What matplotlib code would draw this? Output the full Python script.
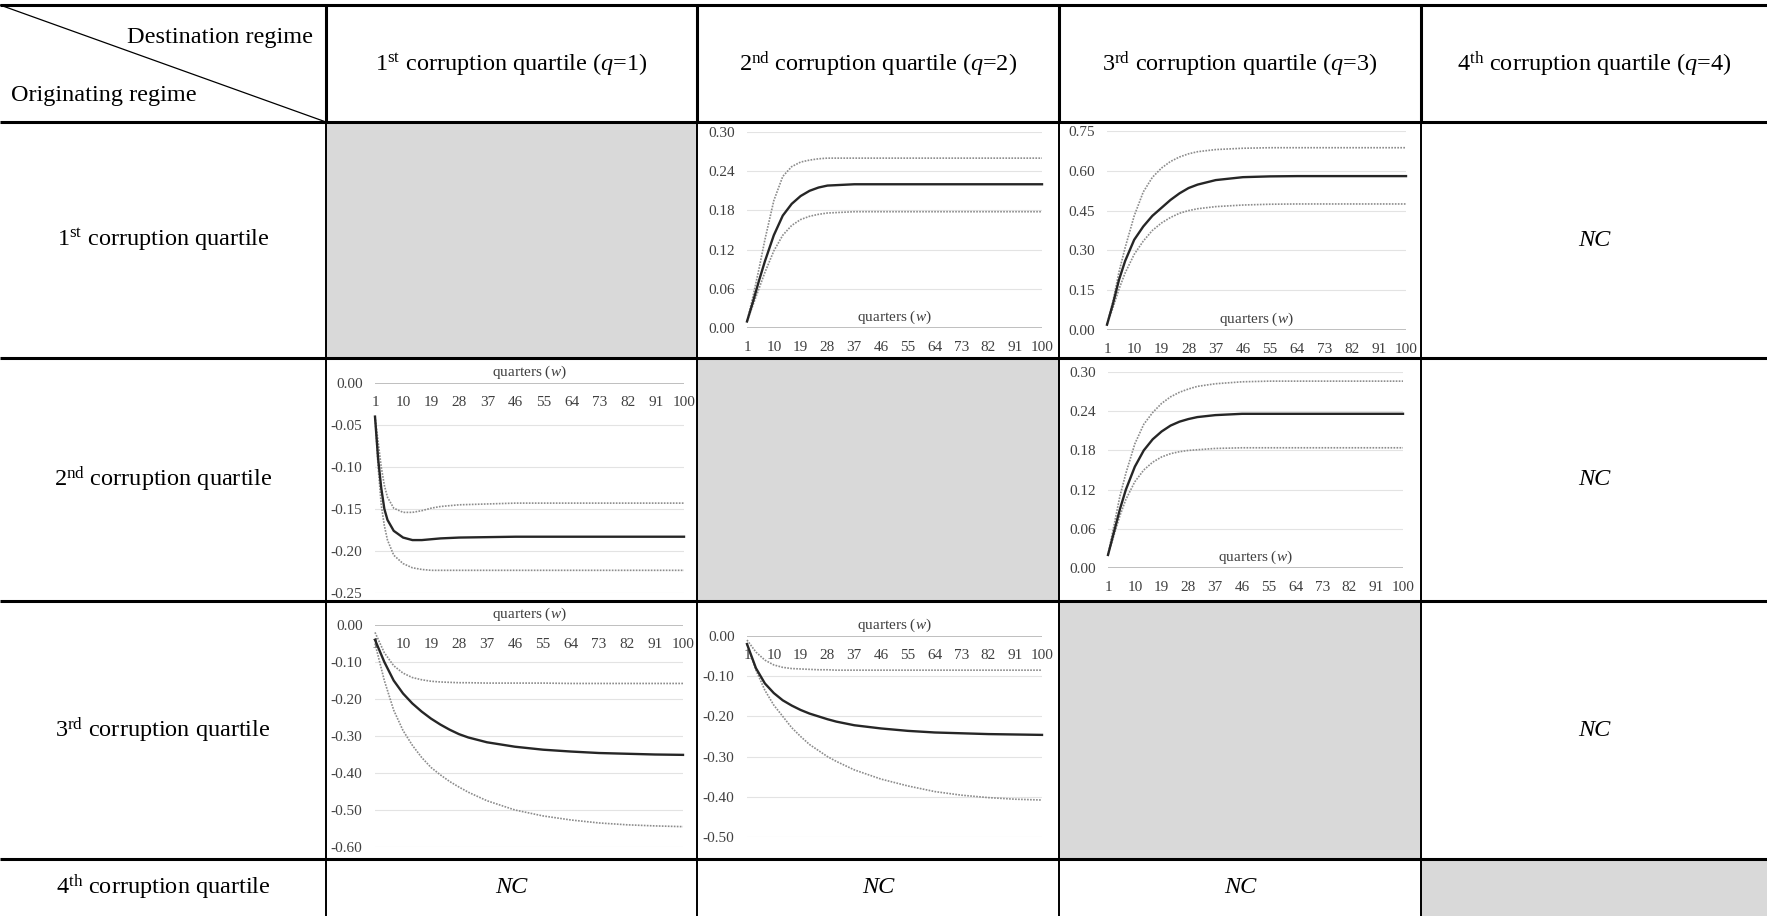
import matplotlib.pyplot as plt
from matplotlib.patches import Rectangle

plt.rcParams['font.family'] = 'Liberation Serif'
plt.rcParams['mathtext.fontset'] = 'custom'
plt.rcParams['mathtext.rm'] = 'Liberation Serif'
plt.rcParams['mathtext.it'] = 'Liberation Serif:italic'

# table text
col_heads = [r'1$^{\rm st}$ corruption quartile ($q$=1)',
             r'2$^{\rm nd}$ corruption quartile ($q$=2)',
             r'3$^{\rm rd}$ corruption quartile ($q$=3)',
             r'4$^{\rm th}$ corruption quartile ($q$=4)']
row_heads = [r'1$^{\rm st}$ corruption quartile',
             r'2$^{\rm nd}$ corruption quartile',
             r'3$^{\rm rd}$ corruption quartile',
             r'4$^{\rm th}$ corruption quartile']
nc_cells = [(0, 3), (1, 3), (2, 3), (3, 0), (3, 1), (3, 2)]
diag_cells = [(0, 0), (1, 1), (2, 2), (3, 3)]

# x ticks shared by every chart
w_ticks = [1, 10, 19, 28, 37, 46, 55, 64, 73, 82, 91, 100]

# row 1 -> q=2
w_a = [1, 3, 5, 7, 10, 13, 16, 19, 22, 25, 28, 37, 46, 55, 64, 73, 82, 91, 100]
a_mid = [0.01, 0.04, 0.072, 0.102, 0.142, 0.172, 0.19, 0.202, 0.21, 0.215, 0.218, 0.22, 0.22, 0.22, 0.22, 0.22, 0.22, 0.22, 0.22]
a_hi = [0.01, 0.048, 0.09, 0.135, 0.195, 0.232, 0.247, 0.254, 0.257, 0.259, 0.26, 0.26, 0.26, 0.26, 0.26, 0.26, 0.26, 0.26, 0.26]
a_lo = [0.01, 0.035, 0.06, 0.085, 0.118, 0.142, 0.157, 0.166, 0.171, 0.174, 0.176, 0.178, 0.178, 0.178, 0.178, 0.178, 0.178, 0.178, 0.178]

# row 1 -> q=3
w_b = [1, 3, 5, 7, 10, 13, 16, 19, 22, 25, 28, 31, 37, 46, 55, 64, 73, 82, 91, 100]
b_mid = [0.02, 0.10, 0.19, 0.26, 0.34, 0.39, 0.43, 0.46, 0.49, 0.515, 0.535, 0.548, 0.565, 0.576, 0.579, 0.58, 0.58, 0.58, 0.58, 0.58]
b_hi = [0.02, 0.11, 0.22, 0.31, 0.43, 0.52, 0.575, 0.61, 0.635, 0.652, 0.664, 0.672, 0.68, 0.685, 0.687, 0.687, 0.687, 0.687, 0.687, 0.687]
b_lo = [0.02, 0.085, 0.155, 0.215, 0.285, 0.335, 0.375, 0.403, 0.424, 0.44, 0.45, 0.457, 0.465, 0.471, 0.474, 0.475, 0.475, 0.475, 0.475, 0.475]

# row 2 -> q=1
w_c = [1, 2, 3, 4, 5, 7, 10, 13, 16, 19, 22, 28, 37, 46, 55, 64, 73, 82, 91, 100]
c_mid = [-0.04, -0.09, -0.125, -0.15, -0.163, -0.176, -0.184, -0.187, -0.187, -0.186, -0.185, -0.184, -0.1835, -0.183, -0.183, -0.183, -0.183, -0.183, -0.183, -0.183]
c_hi = [-0.04, -0.07, -0.10, -0.122, -0.136, -0.149, -0.154, -0.154, -0.152, -0.149, -0.147, -0.145, -0.144, -0.143, -0.143, -0.143, -0.143, -0.143, -0.143, -0.143]
c_lo = [-0.04, -0.10, -0.145, -0.17, -0.187, -0.205, -0.215, -0.22, -0.222, -0.223, -0.223, -0.223, -0.223, -0.223, -0.223, -0.223, -0.223, -0.223, -0.223, -0.223]

# row 2 -> q=3
w_d = w_b
d_mid = [0.02, 0.055, 0.09, 0.12, 0.155, 0.18, 0.197, 0.209, 0.218, 0.224, 0.228, 0.231, 0.234, 0.236, 0.236, 0.236, 0.236, 0.236, 0.236, 0.236]
d_hi = [0.02, 0.065, 0.11, 0.145, 0.19, 0.22, 0.238, 0.252, 0.262, 0.269, 0.274, 0.278, 0.282, 0.285, 0.286, 0.286, 0.286, 0.286, 0.286, 0.286]
d_lo = [0.02, 0.05, 0.08, 0.105, 0.132, 0.15, 0.162, 0.17, 0.175, 0.178, 0.18, 0.181, 0.183, 0.184, 0.184, 0.184, 0.184, 0.184, 0.184, 0.184]

# row 3 -> q=1
w_e = [1, 4, 7, 10, 13, 16, 19, 22, 25, 28, 31, 37, 46, 55, 64, 73, 82, 91, 100]
e_mid = [-0.04, -0.10, -0.15, -0.185, -0.212, -0.234, -0.253, -0.269, -0.283, -0.295, -0.304, -0.317, -0.329, -0.337, -0.342, -0.346, -0.348, -0.350, -0.351]
e_hi = [-0.02, -0.075, -0.11, -0.13, -0.142, -0.148, -0.152, -0.154, -0.155, -0.156, -0.156, -0.157, -0.157, -0.157, -0.158, -0.158, -0.158, -0.158, -0.158]
e_lo = [-0.05, -0.15, -0.23, -0.285, -0.325, -0.358, -0.385, -0.405, -0.423, -0.438, -0.452, -0.475, -0.50, -0.516, -0.527, -0.535, -0.540, -0.543, -0.545]

# row 3 -> q=2
w_f = w_e
f_mid = [-0.02, -0.08, -0.118, -0.142, -0.16, -0.173, -0.184, -0.193, -0.20, -0.207, -0.213, -0.222, -0.23, -0.236, -0.24, -0.242, -0.244, -0.245, -0.246]
f_hi = [-0.01, -0.04, -0.06, -0.072, -0.078, -0.081, -0.082, -0.083, -0.084, -0.084, -0.085, -0.085, -0.085, -0.085, -0.085, -0.085, -0.085, -0.085, -0.085]
f_lo = [-0.02, -0.085, -0.135, -0.172, -0.20, -0.228, -0.25, -0.27, -0.285, -0.30, -0.312, -0.333, -0.356, -0.373, -0.387, -0.396, -0.402, -0.406, -0.408]

W, H = 1767, 916
col_x = [0, 326, 697, 1059, 1421, 1767]
row_y = [5, 122, 358, 601, 859, 916]

fig = plt.figure(figsize=(W / 100, H / 100), dpi=100)
bg = fig.add_axes([0, 0, 1, 1])
bg.set_xlim(0, W)
bg.set_ylim(H, 0)
bg.axis('off')

# grey diagonal cells
for r, c in diag_cells:
    bg.add_patch(Rectangle((col_x[c + 1], row_y[r + 1]), col_x[c + 2] - col_x[c + 1],
                           row_y[r + 2] - row_y[r + 1], color='#d9d9d9', lw=0))

for txt, c in zip(col_heads, range(4)):
    bg.text((col_x[c + 1] + col_x[c + 2]) / 2, (row_y[0] + row_y[1]) / 2 + 1, txt,
            ha='center', va='center', fontsize=17.5)
for txt, r in zip(row_heads, range(4)):
    bg.text(col_x[1] / 2, (row_y[r + 1] + row_y[r + 2]) / 2, txt,
            ha='center', va='center', fontsize=17.5)
for r, c in nc_cells:
    bg.text((col_x[c + 1] + col_x[c + 2]) / 2, (row_y[r + 1] + row_y[r + 2]) / 2, 'NC',
            ha='center', va='center', fontsize=17.5, fontstyle='italic')

bg.plot([0, col_x[1]], [row_y[0], row_y[1]], color='black', lw=0.9)
bg.text(313, 37, 'Destination regime', ha='right', va='center', fontsize=17.5)
bg.text(11, 95, 'Originating regime', ha='left', va='center', fontsize=17.5)


def add_chart(box, w, mid, hi, lo, ymin, ymax, step):
    x0, x1, ytop, ybot = box
    ax = fig.add_axes([x0 / W, 1 - ybot / H, (x1 - x0) / W, (ybot - ytop) / H])
    ax.patch.set_alpha(0)
    ax.set_xlim(1, 100)
    ax.set_ylim(ymin, ymax)
    for s in ax.spines.values():
        s.set_visible(False)
    n = int(round((ymax - ymin) / step))
    yt = [ymin + i * step for i in range(n + 1)]
    for t in yt:
        if abs(t) > 1e-9:
            ax.axhline(t, color='#e3e3e3', lw=0.8, zorder=0)
    ax.axhline(0, color='#bfbfbf', lw=1.4, zorder=1)
    ax.set_yticks(yt)
    ax.set_yticklabels(['%.2f' % t if abs(t) > 1e-9 else '0.00' for t in yt])
    ax.tick_params(axis='y', length=0, pad=9, labelsize=11, labelcolor='#404040')
    ax.set_xticks([])
    for t in w_ticks:
        ax.annotate(str(t), xy=(t, 0), xytext=(0, -14), textcoords='offset points',
                    ha='center', va='center', fontsize=11, color='#404040',
                    annotation_clip=False)
    ax.annotate('quarters ($w$)', xy=(50.5, 0), xytext=(0, 7.5), textcoords='offset points',
                ha='center', va='center', fontsize=11, color='#404040', annotation_clip=False)
    ax.plot(w, hi, color='#8c8c8c', lw=1.2, ls=(0, (1, 0.8)), clip_on=False, zorder=3)
    ax.plot(w, lo, color='#8c8c8c', lw=1.2, ls=(0, (1, 0.8)), clip_on=False, zorder=3)
    ax.plot(w, mid, color='#262626', lw=1.7, clip_on=False, zorder=4)


add_chart((747, 1042, 132, 328), w_a, a_mid, a_hi, a_lo, 0, 0.30, 0.06)
add_chart((1107, 1406, 131, 330), w_b, b_mid, b_hi, b_lo, 0, 0.75, 0.15)
add_chart((375, 684, 383, 593), w_c, c_mid, c_hi, c_lo, -0.25, 0, 0.05)
add_chart((1108, 1403, 372, 568), w_d, d_mid, d_hi, d_lo, 0, 0.30, 0.06)
add_chart((375, 683, 625, 847), w_e, e_mid, e_hi, e_lo, -0.60, 0, 0.10)
add_chart((747, 1042, 636, 837), w_f, f_mid, f_hi, f_lo, -0.50, 0, 0.10)

# table rules drawn last so they sit on top
top = fig.add_axes([0, 0, 1, 1])
top.set_xlim(0, W)
top.set_ylim(H, 0)
top.axis('off')
top.patch.set_alpha(0)
for y in row_y[:-1]:
    top.plot([0, W], [y, y], color='black', lw=2.2, solid_capstyle='butt')
for x in col_x[1:-1]:
    top.plot([x, x], [row_y[0], row_y[1]], color='black', lw=2.2, solid_capstyle='butt')
    top.plot([x, x], [row_y[1], H], color='black', lw=1.4, solid_capstyle='butt')

fig.savefig('out.png', dpi=100)
